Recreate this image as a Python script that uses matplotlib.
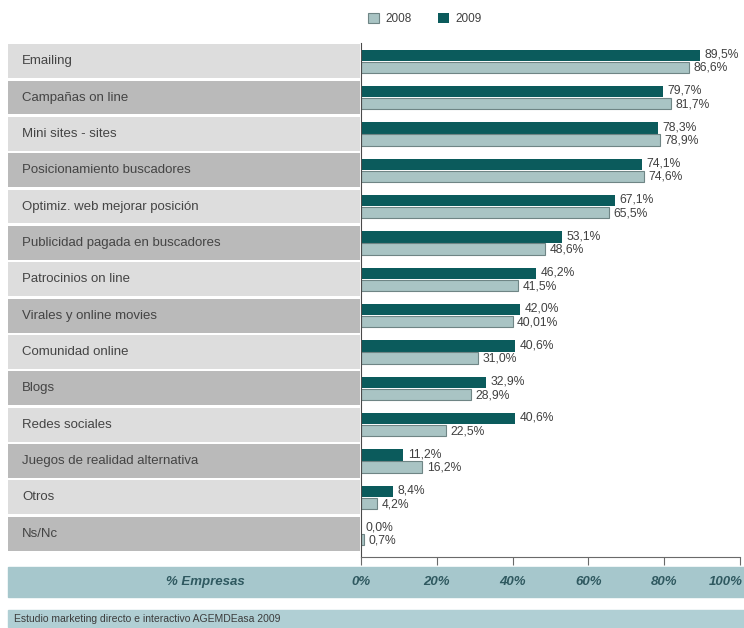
import matplotlib.pyplot as plt
from matplotlib.patches import Rectangle

plt.rcParams['font.family'] = ['Liberation Sans', 'DejaVu Sans']

categories = ['Emailing', 'Campañas on line', 'Mini sites - sites', 'Posicionamiento buscadores',
              'Optimiz. web mejorar posición', 'Publicidad pagada en buscadores', 'Patrocinios on line',
              'Virales y online movies', 'Comunidad online', 'Blogs', 'Redes sociales',
              'Juegos de realidad alternativa', 'Otros', 'Ns/Nc']
v2009 = [89.5, 79.7, 78.3, 74.1, 67.1, 53.1, 46.2, 42.0, 40.6, 32.9, 40.6, 11.2, 8.4, 0.0]
v2008 = [86.6, 81.7, 78.9, 74.6, 65.5, 48.6, 41.5, 40.01, 31.0, 28.9, 22.5, 16.2, 4.2, 0.7]
lab2009 = ['89,5%', '79,7%', '78,3%', '74,1%', '67,1%', '53,1%', '46,2%', '42,0%', '40,6%',
           '32,9%', '40,6%', '11,2%', '8,4%', '0,0%']
lab2008 = ['86,6%', '81,7%', '78,9%', '74,6%', '65,5%', '48,6%', '41,5%', '40,01%', '31,0%',
           '28,9%', '22,5%', '16,2%', '4,2%', '0,7%']
xticks = [0, 20, 40, 60, 80, 100]
source = 'Estudio marketing directo e interactivo AGEMDEasa 2009'

W, H = 744, 628
c2009 = '#0b5b5c'
c2008 = '#a9c4c4'
band = '#a6c7cc'

fig = plt.figure(figsize=(W / 100, H / 100), dpi=100)

def px(x0, y0, x1, y1):
    return [x0 / W, 1 - y1 / H, (x1 - x0) / W, (y1 - y0) / H]

n = len(categories)
ylo = n - 0.5 + 0.14

# label column
axl = fig.add_axes(px(8, 43, 360, 557))
axl.set_xlim(0, 1)
axl.set_ylim(ylo, -0.5)
axl.axis('off')
for i, c in enumerate(categories):
    axl.barh(i, 1, height=0.93, color='#dddddd' if i % 2 == 0 else '#bababa', linewidth=0)
    axl.text(0.04, i, c, va='center', ha='left', fontsize=9.5, color='#444444')

# bars
ax = fig.add_axes(px(361, 43, 740, 557))
ax.set_xlim(0, 100)
ax.set_ylim(ylo, -0.5)
ys = list(range(n))
off = 0.165
b09 = ax.barh([y - off for y in ys], v2009, height=0.31, color=c2009, label='2009')
b08 = ax.barh([y + off for y in ys], v2008, height=0.31, color=c2008, edgecolor='#6f8585',
              linewidth=0.8, label='2008')
for i in range(n):
    ax.text(v2009[i] + 1.2, i - off - 0.02, lab2009[i], va='center', ha='left', fontsize=8.7,
            color='#404040', clip_on=False)
    ax.text(v2008[i] + 1.2, i + off + 0.02, lab2008[i], va='center', ha='left', fontsize=8.7,
            color='#404040', clip_on=False)

for s in ['top', 'right']:
    ax.spines[s].set_visible(False)
ax.spines['left'].set_color('#4a4a4a')
ax.spines['bottom'].set_color('#6a6a6a')
ax.set_yticks([])
ax.set_xticks(xticks)
ax.tick_params(axis='x', direction='out', length=6, color='#6a6a6a', labelbottom=False)

# axis band
fig.patches.append(Rectangle((8 / W, 1 - 597 / H), (W - 8) / W, 30 / H, transform=fig.transFigure,
                             color=band, zorder=0))
fig.text(205 / W, 1 - 582 / H, '% Empresas', ha='center', va='center', fontsize=9.5,
         fontweight='bold', style='italic', color='#2f5960')
for t in xticks:
    xf = (361 + t / 100 * 379) / W
    if t == 100:
        fig.text(743 / W, 1 - 582 / H, f'{t}%', ha='right', va='center', fontsize=9.5,
                 fontweight='bold', style='italic', color='#2f5960')
    else:
        fig.text(xf, 1 - 582 / H, f'{t}%', ha='center', va='center', fontsize=9.5,
                 fontweight='bold', style='italic', color='#2f5960')

# source band
fig.patches.append(Rectangle((8 / W, 1 - 627 / H), (W - 8) / W, 17 / H, transform=fig.transFigure,
                             color='#b0cfd4', zorder=0))
fig.text(14 / W, 1 - 619 / H, source, ha='left', va='center', fontsize=7.5, color='#3c3c3c')

fig.legend(handles=[b08, b09], labels=['2008', '2009'], ncol=2, loc='center left',
           bbox_to_anchor=(357 / W, 1 - 19 / H), frameon=False, fontsize=8.5,
           handlelength=1.0, handleheight=1.0, columnspacing=2.2, handletextpad=0.5,
           labelcolor='#404040')

fig.savefig('out.png', dpi=100)
